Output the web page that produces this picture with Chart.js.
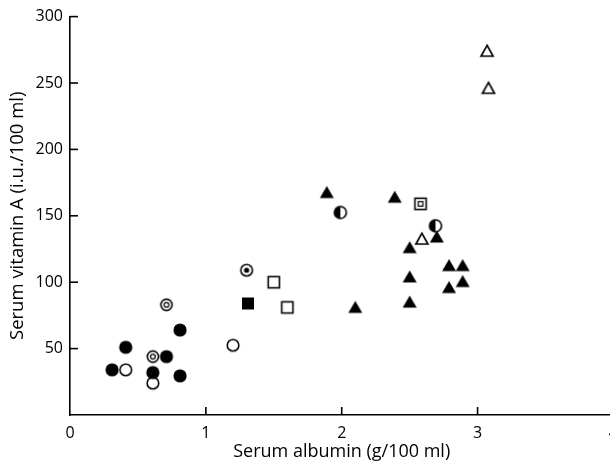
<!DOCTYPE html>
<html>
<head>
<meta charset="utf-8">
<script src="https://cdn.jsdelivr.net/npm/chart.js@4/dist/chart.umd.min.js"></script>
<style>
html,body{margin:0;padding:0;background:#fff;overflow:hidden;width:610px;height:464px;}
#wrap{width:627px;height:464px;}
</style>
</head>
<body>
<div id="wrap"><canvas id="c" width="627" height="464"></canvas></div>
<script>
// ---- data (x: serum albumin g/100 ml, y: serum vitamin A i.u./100 ml) ----
const filledCircles   = [[0.31,34],[0.41,51],[0.61,32],[0.71,44],[0.81,64],[0.81,29.5]];
const openCircles     = [[0.41,34],[0.61,24],[1.20,52.5]];
const doubleCircles   = [[0.61,44],[0.71,83]];
const dotCircles      = [[1.30,109]];
const filledSquares   = [[1.31,84]];
const openSquares     = [[1.50,100],[1.60,81]];
const boxedSquares    = [[2.58,159]];
const halfCircles     = [[1.99,152.5],[2.69,142.5]];
const filledTriangles = [[1.89,167.5],[2.39,164],[2.70,134],[2.50,126],[2.79,112.5],[2.89,112.5],[2.50,104],[2.89,100.5],[2.79,96],[2.10,81],[2.50,85]];
const openTriangles   = [[2.59,132.5],[3.07,274],[3.08,246]];
const xTicks = [0,1,2,3,4];
const yTicks = [50,100,150,200,250,300];
const xTitle = 'Serum albumin (g/100 ml)';
const yTitle = 'Serum vitamin A (i.u./100 ml)';

// ---- marker images ----
function marker(kind){
  const s = 16, c = document.createElement('canvas');
  c.width = s; c.height = s;
  const g = c.getContext('2d');
  g.strokeStyle = '#000'; g.fillStyle = '#000'; g.lineWidth = 1.6;
  const m = s/2;
  const circ = (r)=>{g.beginPath(); g.arc(m,m,r,0,Math.PI*2);};
  switch(kind){
    case 'fc': circ(6.6); g.fill(); break;
    case 'oc': circ(5.8); g.stroke(); break;
    case 'dc': circ(5.6); g.stroke(); g.lineWidth=1.2; circ(2.4); g.stroke(); break;
    case 'pc': circ(5.8); g.stroke(); circ(2.6); g.fill(); break;
    case 'fs': g.fillRect(m-6,m-6,12,12); break;
    case 'os': g.strokeRect(m-5.6,m-5.6,11.2,11.2); break;
    case 'bs': g.strokeRect(m-5.6,m-5.6,11.2,11.2); g.lineWidth=1.2; g.strokeRect(m-2.3,m-2.3,4.6,4.6); break;
    case 'hc': circ(6); g.stroke(); g.beginPath(); g.arc(m,m,6,Math.PI/2,Math.PI*1.5); g.closePath(); g.fill(); break;
    case 'ft': g.beginPath(); g.moveTo(m,m-6.5); g.lineTo(m+7,m+5.5); g.lineTo(m-7,m+5.5); g.closePath(); g.fill(); break;
    case 'ot': g.beginPath(); g.moveTo(m,m-5.8); g.lineTo(m+6,m+5); g.lineTo(m-6,m+5); g.closePath(); g.lineWidth=1.7; g.stroke(); break;
  }
  return c;
}
const toPts = a => a.map(p=>({x:p[0],y:p[1]}));
const series = [
  [filledCircles,'fc'],[openCircles,'oc'],[doubleCircles,'dc'],[dotCircles,'pc'],
  [filledSquares,'fs'],[openSquares,'os'],[boxedSquares,'bs'],[halfCircles,'hc'],
  [filledTriangles,'ft'],[openTriangles,'ot']
];
const datasets = series.map(([d,k])=>({
  data: toPts(d), pointStyle: marker(k), pointRadius: 8, pointHoverRadius: 8,
  showLine:false, borderColor:'#000', backgroundColor:'#000'
}));

const FONT = '"Open Sans", sans-serif';

const innerTicks = {
  id:'innerTicks',
  afterDraw(chart){
    const g = chart.ctx, xs = chart.scales.x, ys = chart.scales.y;
    g.save(); g.strokeStyle='#000'; g.lineWidth=1.6;
    for (const v of xTicks){ if(v===0) continue; const px=xs.getPixelForValue(v);
      g.beginPath(); g.moveTo(px,ys.bottom); g.lineTo(px,ys.bottom-8); g.stroke(); }
    for (const v of yTicks){ const py=ys.getPixelForValue(v);
      g.beginPath(); g.moveTo(xs.left,py); g.lineTo(xs.left+8,py); g.stroke(); }
    g.restore();
  }
};

new Chart(document.getElementById('c'),{
  type:'scatter',
  data:{datasets},
  options:{
    responsive:false, animation:false,
    layout:{padding:{top:13.4,right:0,left:0,bottom:0}},
    plugins:{legend:{display:false},tooltip:{enabled:false}},
    scales:{
      x:{
        type:'linear', min:0, max:4,
        afterBuildTicks(s){ s.ticks = xTicks.map(v=>({value:v})); },
        afterFit(s){ s.height = 49; },
        grid:{display:false, drawTicks:false},
        border:{display:true,color:'#000',width:1.6},
        ticks:{color:'#000', font:{family:FONT,size:16}, padding:9, maxRotation:0, autoSkip:false},
        title:{display:true, text:xTitle, color:'#000', font:{family:FONT,size:18}, padding:{top:0,bottom:1}}
      },
      y:{
        type:'linear', min:0, max:300,
        afterBuildTicks(s){ s.ticks = yTicks.map(v=>({value:v})); },
        afterFit(s){ s.width = 70; },
        grid:{display:false, drawTicks:false},
        border:{display:true,color:'#000',width:1.6},
        ticks:{color:'#000', font:{family:FONT,size:16}, padding:7},
        title:{display:true, text:yTitle, color:'#000', font:{family:FONT,size:18.5}, padding:{top:7,bottom:0}}
      }
    }
  },
  plugins:[innerTicks]
});
</script>
</body>
</html>
